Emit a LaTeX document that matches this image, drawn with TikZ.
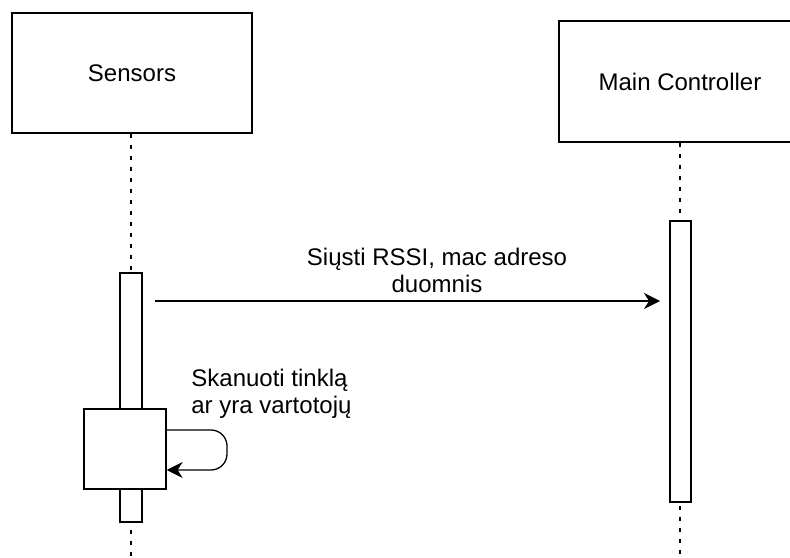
\documentclass[tikz,border=0pt]{standalone}
\usepackage{fontspec}
\setmainfont{Liberation Sans}
\usetikzlibrary{arrows.meta}

\tikzset{
  actor/.style={draw, line width=0.65pt, fill=white, font=\fontsize{12}{13.5}\selectfont,
                inner sep=0pt},
  actbar/.style={draw, line width=0.65pt, fill=white, inner sep=0pt},
  lifeline/.style={line width=0.65pt, dash pattern=on 2pt off 3.5pt},
  msg/.style={line width=0.65pt, -{Stealth[length=8pt,width=8pt,inset=2.5pt]}},
  msglabel/.style={font=\fontsize{12}{13.5}\selectfont, inner sep=0pt},
}

\begin{document}
\begin{tikzpicture}[x=0.5pt, y=-0.5pt]
  \useasboundingbox (0,0) rectangle (790,557);

  % participants
  \node[actor, minimum width=120pt, minimum height=60pt] (sensors) at (132,73) {Sensors};
  \node[actor, minimum width=121pt, minimum height=60.5pt] (ctrl) at (680,81.5) {Main Controller};

  % lifeline ends
  \coordinate (sEnd) at (131,557);
  \coordinate (cEnd) at (680,557);

  % lifelines
  \draw[lifeline] (sensors.south -| sEnd) -- (sEnd);
  \draw[lifeline] (ctrl.south -| cEnd) -- (cEnd);

  % activation bars
  \node[actbar, minimum width=11pt, minimum height=124.5pt] (sbar) at (131,397.5) {};
  \node[actbar, minimum width=10.5pt, minimum height=140.5pt] (cbar) at (680.5,361.5) {};

  % scanning activation
  \node[actbar, minimum width=41pt, minimum height=40pt] (scan) at (125,449) {};

  % message to the controller
  \coordinate (mStart) at (155,301);
  \coordinate (mEnd) at (660,301);
  \draw[msg] (mStart) -- (mEnd);
  \node[msglabel, align=center] (mlabel) at (437,270) {Siųsti RSSI, mac adreso\\duomnis};

  % self call
  \coordinate (loopOut) at (scan.east |- 0,430);
  \coordinate (loopIn) at (scan.east |- 0,470);
  \draw[msg, rounded corners=8pt] (loopOut) -- (227,430) -- (227,470) -- (loopIn);
  \node[msglabel, align=left, anchor=west] (slabel) at (191,394) {Skanuoti tinklą\\ar yra vartotojų};
\end{tikzpicture}
\end{document}
